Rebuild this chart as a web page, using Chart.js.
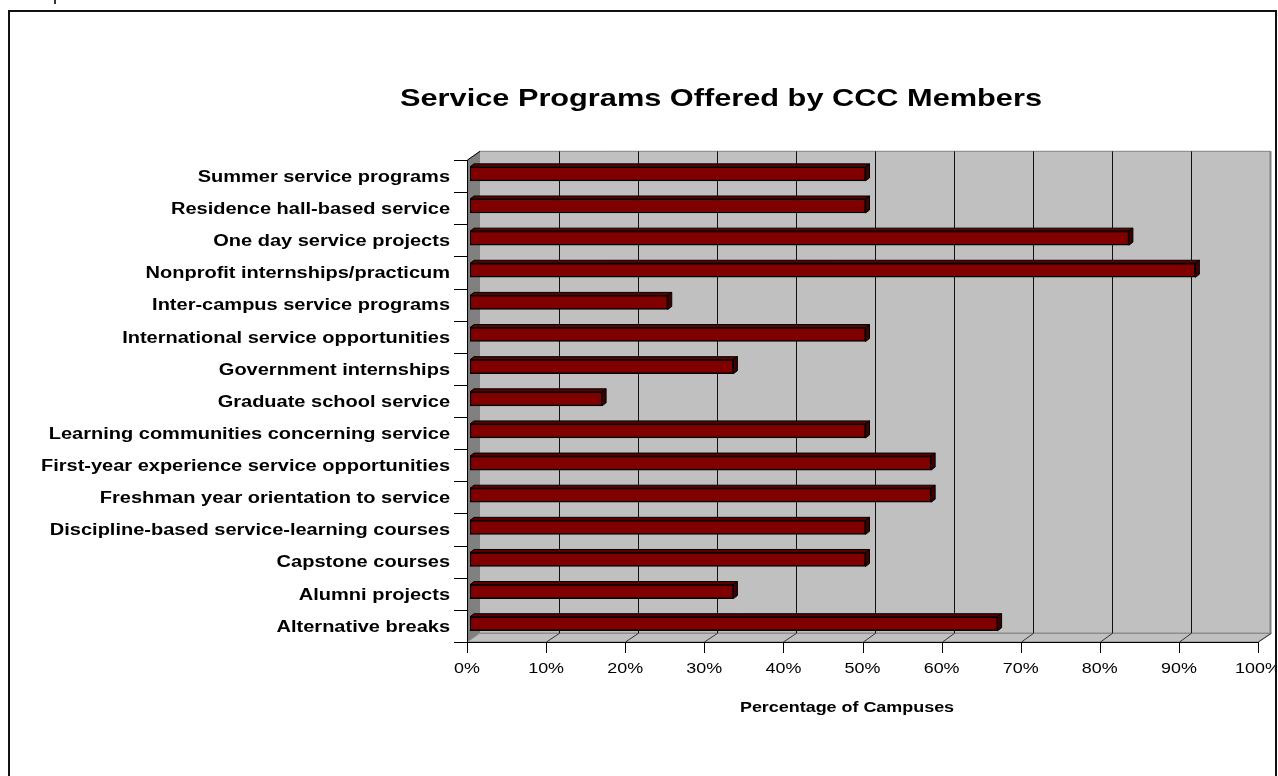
<!DOCTYPE html>
<html>
<head>
<meta charset="utf-8">
<title>Service Programs Offered by CCC Members</title>
<script src="https://cdn.jsdelivr.net/npm/chart.js@4/dist/chart.umd.min.js"></script>
<style>
    html, body { margin: 0; padding: 0; background: #fff; }
    #chart { display: block; }
</style>
</head>
<body>
<canvas id="chart" width="1278" height="776"></canvas>
<script>
// Chart data (values are k/12 of campuses)
const categories = [
    'Summer service programs',
    'Residence hall-based service',
    'One day service projects',
    'Nonprofit internships/practicum',
    'Inter-campus service programs',
    'International service opportunities',
    'Government internships',
    'Graduate school service',
    'Learning communities concerning service',
    'First-year experience service opportunities',
    'Freshman year orientation to service',
    'Discipline-based service-learning courses',
    'Capstone courses',
    'Alumni projects',
    'Alternative breaks'
];
const percentages = [50, 50, 83.3, 91.7, 25, 50, 33.3, 16.7, 50, 58.3, 58.3, 50, 50, 33.3, 66.7];
const xTicks = [0, 10, 20, 30, 40, 50, 60, 70, 80, 90, 100];

const chartTitle = 'Service Programs Offered by CCC Members';
const xAxisTitle = 'Percentage of Campuses';

// 3D look of the old spreadsheet chart
const DEPTH_X = 12.5;
const DEPTH_Y = -8.7;
const BAR_SHIFT_X = 3;
const BAR_SHIFT_Y = -2.2;
const BAR_DX = 4;
const BAR_DY = -3;
const TEXT_SX = 1.28;   // the picture is stretched sideways
const LABEL_SX = 1.25;
const FONT = '"Liberation Sans", Arial, sans-serif';

function stretchedText(ctx, text, x, y, align, font, sx) {
    ctx.save();
    ctx.translate(x, y);
    ctx.scale(sx || TEXT_SX, 1);
    ctx.font = font;
    ctx.textAlign = align;
    ctx.textBaseline = 'alphabetic';
    ctx.fillStyle = '#000';
    ctx.fillText(text, 0, 0);
    ctx.restore();
}

function poly(ctx, pts, fill, stroke, lw) {
    ctx.beginPath();
    ctx.moveTo(pts[0][0], pts[0][1]);
    for (let i = 1; i < pts.length; i++) ctx.lineTo(pts[i][0], pts[i][1]);
    ctx.closePath();
    if (fill) { ctx.fillStyle = fill; ctx.fill(); }
    if (stroke) { ctx.strokeStyle = stroke; ctx.lineWidth = lw || 1; ctx.stroke(); }
}

function line(ctx, x1, y1, x2, y2, color, lw) {
    ctx.beginPath();
    ctx.moveTo(x1, y1);
    ctx.lineTo(x2, y2);
    ctx.strokeStyle = color;
    ctx.lineWidth = lw || 1;
    ctx.stroke();
}

const excel3d = {
    id: 'excel3d',
    beforeDatasetsDraw(chart) {
        const ctx = chart.ctx;
        const a = chart.chartArea;
        const xs = chart.scales.x;
        const L = a.left, R = a.right, T = a.top, B = a.bottom;

        ctx.save();
        // back wall
        poly(ctx, [[L + DEPTH_X, T + DEPTH_Y], [R + DEPTH_X, T + DEPTH_Y], [R + DEPTH_X, B + DEPTH_Y], [L + DEPTH_X, B + DEPTH_Y]], '#c0c0c0', '#808080', 1);
        line(ctx, R + DEPTH_X, T + DEPTH_Y, R + DEPTH_X, B + DEPTH_Y, '#808080', 2);
        // left wall
        poly(ctx, [[L, T], [L + DEPTH_X, T + DEPTH_Y], [L + DEPTH_X, B + DEPTH_Y], [L, B]], '#808080', null);
        // floor
        poly(ctx, [[L, B], [L + DEPTH_X, B + DEPTH_Y], [R + DEPTH_X, B + DEPTH_Y], [R, B]], '#c0c0c0', '#808080', 1);

        // gridlines on the back wall and the floor
        xTicks.forEach(function(v) {
            const px = Math.round(xs.getPixelForValue(v)) + 0.5;
            const gx = Math.round(xs.getPixelForValue(v) + DEPTH_X) + 0.5;
            if (v > 0 && v < 100) {
                line(ctx, gx, T + DEPTH_Y, gx, B + DEPTH_Y, '#111', 1);
            }
            if (v > 0) {
                line(ctx, px, B, gx, B + DEPTH_Y, '#333', 1);
            }
            // tick marks under the axis
            line(ctx, px, B, px, B + 11, '#000', 1);
        });

        // axes
        line(ctx, L + 0.5, T, L + 0.5, B, '#000', 1);
        line(ctx, L + 0.5, T, L + 0.5 + DEPTH_X, T + DEPTH_Y, '#000', 1);
        line(ctx, L, B + 0.5, R, B + 0.5, '#000', 1);

        // category separators on the left axis
        const n = categories.length;
        const step = (B - T) / n;
        for (let i = 0; i <= n; i++) {
            const py = Math.round(T + i * step) + 0.5;
            line(ctx, L - 13, py, L, py, '#000', 1);
        }
        ctx.restore();

        // the bars sit a bit behind the front plane
        ctx.save();
        ctx.translate(BAR_SHIFT_X, BAR_SHIFT_Y);
    },
    afterDatasetsDraw(chart) {
        const ctx = chart.ctx;
        const meta = chart.getDatasetMeta(0);
        meta.data.forEach(function(bar) {
            const p = bar.getProps(['x', 'y', 'base', 'height'], true);
            const top = p.y - p.height / 2;
            const bot = p.y + p.height / 2;
            // top face
            poly(ctx, [[p.base, top], [p.x, top], [p.x + BAR_DX, top + BAR_DY], [p.base + BAR_DX, top + BAR_DY]], '#5c0000', '#000', 1);
            // end face
            poly(ctx, [[p.x, top], [p.x + BAR_DX, top + BAR_DY], [p.x + BAR_DX, bot + BAR_DY], [p.x, bot]], '#400000', '#000', 1);
        });
        ctx.restore();
    },
    afterDraw(chart) {
        const ctx = chart.ctx;
        const a = chart.chartArea;
        const xs = chart.scales.x;
        const ys = chart.scales.y;

        // category labels
        categories.forEach(function(label, i) {
            const cy = ys.getPixelForValue(i);
            stretchedText(ctx, label, a.left - 17, cy + 5.8, 'right', 'bold 16px ' + FONT, LABEL_SX);
        });

        // tick labels
        xTicks.forEach(function(v) {
            stretchedText(ctx, v + '%', xs.getPixelForValue(v), a.bottom + 31, 'center', '14px ' + FONT);
        });

        // titles
        stretchedText(ctx, chartTitle, 721, 106, 'center', 'bold 24px ' + FONT);
        stretchedText(ctx, xAxisTitle, 847, 712, 'center', 'bold 14px ' + FONT);

        // outer frame, clipping what falls outside it
        ctx.save();
        ctx.fillStyle = '#fff';
        ctx.fillRect(1277, 0, 10, chart.height);
        ctx.strokeStyle = '#111';
        ctx.lineWidth = 2;
        ctx.beginPath();
        ctx.moveTo(9, chart.height + 5);
        ctx.lineTo(9, 11);
        ctx.lineTo(1276, 11);
        ctx.lineTo(1276, chart.height + 5);
        ctx.stroke();
        ctx.fillStyle = '#333';
        ctx.fillRect(54, 0, 2, 4);
        ctx.restore();
    }
};

const chartConfig = {
    type: 'bar',
    data: {
        labels: categories,
        datasets: [{
            label: 'Percentage of Campuses',
            data: percentages,
            backgroundColor: '#800000',
            borderColor: '#000000',
            borderWidth: 1.5,
            borderSkipped: false,
            barThickness: 14
        }]
    },
    options: {
        indexAxis: 'y',
        responsive: false,
        animation: false,
        devicePixelRatio: 1,
        layout: {
            padding: { left: 467, right: 20, top: 160, bottom: 134 }
        },
        plugins: {
            legend: { display: false },
            tooltip: { enabled: false },
            title: { display: false }
        },
        scales: {
            x: {
                type: 'linear',
                min: 0,
                max: 100,
                display: false,
                ticks: { stepSize: 10 }
            },
            y: {
                type: 'category',
                display: false
            }
        }
    },
    plugins: [excel3d]
};

new Chart(document.getElementById('chart').getContext('2d'), chartConfig);
</script>
</body>
</html>
